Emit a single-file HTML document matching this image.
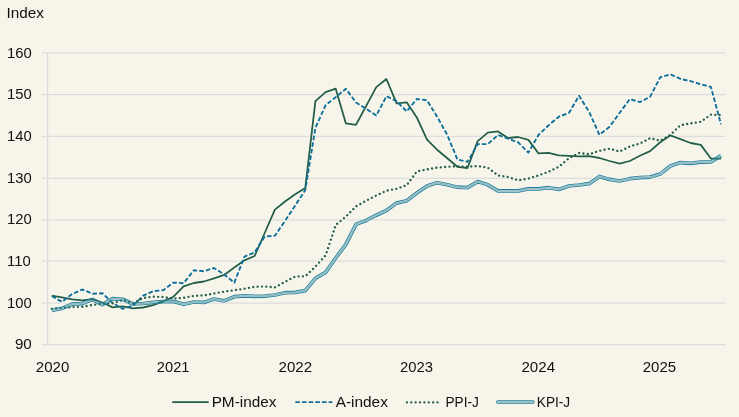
<!DOCTYPE html>
<html><head><meta charset="utf-8"><title>Index</title>
<style>
html,body{margin:0;padding:0;background:#f7f5ea;}
body{width:739px;height:417px;overflow:hidden;font-family:"Liberation Sans",sans-serif;}
svg{display:block}
text{font-family:"Liberation Sans",sans-serif;font-size:15.5px;fill:#111}
.g line{stroke:#dcdcde;stroke-width:1.25}
polyline{fill:none;stroke-linejoin:round}
</style></head><body>
<svg style="will-change:transform" width="739" height="417" viewBox="0 0 739 417">
<rect width="739" height="417" fill="#f7f5ea"/>
<g class="g"><line x1="42" x2="725.5" y1="52.94" y2="52.94"/><line x1="42" x2="725.5" y1="94.66" y2="94.66"/><line x1="42" x2="725.5" y1="136.35" y2="136.35"/><line x1="42" x2="725.5" y1="178.25" y2="178.25"/><line x1="42" x2="725.5" y1="219.80" y2="219.80"/><line x1="42" x2="725.5" y1="261.15" y2="261.15"/><line x1="42" x2="725.5" y1="303.00" y2="303.00"/><line x1="42" x2="725.5" y1="344.62" y2="344.62"/><line x1="47.6" x2="47.6" y1="52.4" y2="345.0"/></g>
<text transform="translate(6.39 17.80) scale(0.9884 1)">Index</text>
<text transform="translate(7.02 57.79) scale(0.9574 1)">160</text><text transform="translate(7.02 99.46) scale(0.9574 1)">150</text><text transform="translate(7.02 141.13) scale(0.9574 1)">140</text><text transform="translate(7.02 182.80) scale(0.9574 1)">130</text><text transform="translate(7.02 224.47) scale(0.9574 1)">120</text><text transform="translate(7.02 266.14) scale(0.9574 1)">110</text><text transform="translate(7.02 307.81) scale(0.9574 1)">100</text><text transform="translate(14.89 349.48) scale(0.9806 1)">90</text>
<text transform="translate(35.84 372.20) scale(0.9699 1)">2020</text><text transform="translate(156.86 372.20) scale(0.9470 1)">2021</text><text transform="translate(278.54 372.20) scale(0.9750 1)">2022</text><text transform="translate(400.05 372.20) scale(0.9570 1)">2023</text><text transform="translate(521.44 372.20) scale(0.9745 1)">2024</text><text transform="translate(642.74 372.20) scale(0.9712 1)">2025</text>

<g class="s">
<g opacity="0.8">
<polyline points="51.8,295.7 61.9,297.3 72.1,299.3 82.2,300.3 92.4,299.2 102.5,302.5 112.6,307.4 122.8,306.4 132.9,308.3 143.1,307.5 153.2,305.2 163.3,301.3 173.5,296.7 183.6,286.4 193.8,283.0 203.9,281.5 214.0,278.3 224.2,274.9 234.3,267.5 244.5,260.3 254.6,256.0 264.7,233.0 274.9,209.6 285.0,201.5 295.2,194.2 305.3,187.9 315.4,101.2 325.6,92.2 335.7,88.7 345.9,123.4 356.0,124.8 366.1,106.1 376.3,87.1 386.4,79.0 396.6,103.4 406.7,102.3 416.8,117.4 427.0,139.7 437.1,149.7 447.3,158.3 457.4,166.8 467.5,168.0 477.7,141.1 487.8,132.6 498.0,131.4 508.1,138.0 518.2,137.0 528.4,139.9 538.5,153.4 548.7,152.9 558.8,155.3 568.9,155.8 579.1,156.4 589.2,156.1 599.4,158.0 609.5,161.0 619.6,163.7 629.8,161.0 639.9,155.7 650.1,151.1 660.2,142.3 670.3,135.4 680.5,139.1 690.6,143.0 700.8,144.9 710.9,158.5 721.0,158.7" stroke="#fbf9f0" stroke-width="3.8"/>
<polyline points="51.8,296.0 61.9,301.9 72.1,294.1 82.2,289.5 92.4,293.8 102.5,293.3 112.6,303.0 122.8,308.8 132.9,305.7 143.1,295.7 153.2,291.2 163.3,290.2 173.5,282.6 183.6,283.2 193.8,270.3 203.9,271.2 214.0,268.0 224.2,274.4 234.3,282.6 244.5,256.6 254.6,252.4 264.7,236.6 274.9,235.7 285.0,221.0 295.2,205.5 305.3,190.1 315.4,127.8 325.6,105.2 335.7,97.2 345.9,88.8 356.0,102.5 366.1,108.8 376.3,115.5 386.4,96.3 396.6,101.2 406.7,111.5 416.8,99.0 427.0,100.3 437.1,116.7 447.3,135.0 457.4,159.5 467.5,161.9 477.7,144.1 487.8,144.1 498.0,135.0 508.1,138.7 518.2,142.4 528.4,152.6 538.5,135.0 548.7,125.2 558.8,116.7 568.9,113.0 579.1,95.8 589.2,112.0 599.4,134.8 609.5,126.8 619.6,113.0 629.8,99.1 639.9,102.1 650.1,96.8 660.2,77.3 670.3,74.3 680.5,78.9 690.6,81.2 700.8,84.2 710.9,86.9 721.0,124.3" stroke="#fbf9f0" stroke-width="3.9"/>
<polyline points="51.8,308.8 61.9,308.0 72.1,307.1 82.2,306.8 92.4,305.0 102.5,303.6 112.6,303.3 122.8,299.9 132.9,303.4 143.1,298.0 153.2,296.7 163.3,297.0 173.5,298.6 183.6,297.8 193.8,295.9 203.9,295.4 214.0,293.5 224.2,291.6 234.3,290.2 244.5,288.7 254.6,286.8 264.7,286.5 274.9,287.4 285.0,281.8 295.2,276.6 305.3,276.3 315.4,266.6 325.6,255.4 335.7,225.0 345.9,216.6 356.0,206.4 366.1,200.7 376.3,195.5 386.4,190.7 396.6,188.8 406.7,185.2 416.8,171.4 427.0,169.4 437.1,167.6 447.3,166.8 457.4,166.3 467.5,166.8 477.7,166.1 487.8,167.6 498.0,175.4 508.1,177.1 518.2,180.3 528.4,178.6 538.5,175.4 548.7,171.7 558.8,166.8 568.9,158.3 579.1,153.0 589.2,154.2 599.4,150.8 609.5,148.7 619.6,151.5 629.8,146.4 639.9,143.5 650.1,138.2 660.2,140.6 670.3,134.9 680.5,125.2 690.6,123.4 700.8,121.8 710.9,114.6 721.0,115.2" stroke="#fbf9f0" stroke-width="4.0" stroke-linecap="round" stroke-dasharray="0.01 4.36"/>
<polyline points="51.8,310.5 61.9,308.4 72.1,304.2 82.2,303.6 92.4,299.5 102.5,304.7 112.6,298.7 122.8,299.3 132.9,304.0 143.1,303.5 153.2,302.3 163.3,301.7 173.5,301.4 183.6,304.3 193.8,302.0 203.9,302.4 214.0,299.0 224.2,300.9 234.3,296.7 244.5,295.8 254.6,296.3 264.7,296.1 274.9,295.0 285.0,292.7 295.2,292.4 305.3,290.6 315.4,278.4 325.6,272.4 335.7,258.0 345.9,244.4 356.0,224.3 366.1,220.4 376.3,215.2 386.4,210.5 396.6,203.1 406.7,200.7 416.8,193.0 427.0,186.0 437.1,182.8 447.3,184.8 457.4,187.2 467.5,187.7 477.7,181.6 487.8,184.8 498.0,190.9 508.1,190.9 518.2,190.9 528.4,188.9 538.5,188.9 548.7,187.7 558.8,189.4 568.9,186.0 579.1,185.0 589.2,183.7 599.4,176.4 609.5,179.4 619.6,181.0 629.8,178.7 639.9,177.6 650.1,177.1 660.2,174.1 670.3,166.0 680.5,162.6 690.6,163.3 700.8,162.1 710.9,161.9 721.0,155.7" stroke="#fbf9f0" stroke-width="5.6"/>
</g>
<polyline points="51.8,295.7 61.9,297.3 72.1,299.3 82.2,300.3 92.4,299.2 102.5,302.5 112.6,307.4 122.8,306.4 132.9,308.3 143.1,307.5 153.2,305.2 163.3,301.3 173.5,296.7 183.6,286.4 193.8,283.0 203.9,281.5 214.0,278.3 224.2,274.9 234.3,267.5 244.5,260.3 254.6,256.0 264.7,233.0 274.9,209.6 285.0,201.5 295.2,194.2 305.3,187.9 315.4,101.2 325.6,92.2 335.7,88.7 345.9,123.4 356.0,124.8 366.1,106.1 376.3,87.1 386.4,79.0 396.6,103.4 406.7,102.3 416.8,117.4 427.0,139.7 437.1,149.7 447.3,158.3 457.4,166.8 467.5,168.0 477.7,141.1 487.8,132.6 498.0,131.4 508.1,138.0 518.2,137.0 528.4,139.9 538.5,153.4 548.7,152.9 558.8,155.3 568.9,155.8 579.1,156.4 589.2,156.1 599.4,158.0 609.5,161.0 619.6,163.7 629.8,161.0 639.9,155.7 650.1,151.1 660.2,142.3 670.3,135.4 680.5,139.1 690.6,143.0 700.8,144.9 710.9,158.5 721.0,158.7" stroke="#245f48" stroke-width="1.8"/>
<polyline points="51.8,296.0 61.9,301.9 72.1,294.1 82.2,289.5 92.4,293.8 102.5,293.3 112.6,303.0 122.8,308.8 132.9,305.7 143.1,295.7 153.2,291.2 163.3,290.2 173.5,282.6 183.6,283.2 193.8,270.3 203.9,271.2 214.0,268.0 224.2,274.4 234.3,282.6 244.5,256.6 254.6,252.4 264.7,236.6 274.9,235.7 285.0,221.0 295.2,205.5 305.3,190.1 315.4,127.8 325.6,105.2 335.7,97.2 345.9,88.8 356.0,102.5 366.1,108.8 376.3,115.5 386.4,96.3 396.6,101.2 406.7,111.5 416.8,99.0 427.0,100.3 437.1,116.7 447.3,135.0 457.4,159.5 467.5,161.9 477.7,144.1 487.8,144.1 498.0,135.0 508.1,138.7 518.2,142.4 528.4,152.6 538.5,135.0 548.7,125.2 558.8,116.7 568.9,113.0 579.1,95.8 589.2,112.0 599.4,134.8 609.5,126.8 619.6,113.0 629.8,99.1 639.9,102.1 650.1,96.8 660.2,77.3 670.3,74.3 680.5,78.9 690.6,81.2 700.8,84.2 710.9,86.9 721.0,124.3" stroke="#11709a" stroke-width="1.9" stroke-dasharray="4.6 2.07"/>
<polyline points="51.8,308.8 61.9,308.0 72.1,307.1 82.2,306.8 92.4,305.0 102.5,303.6 112.6,303.3 122.8,299.9 132.9,303.4 143.1,298.0 153.2,296.7 163.3,297.0 173.5,298.6 183.6,297.8 193.8,295.9 203.9,295.4 214.0,293.5 224.2,291.6 234.3,290.2 244.5,288.7 254.6,286.8 264.7,286.5 274.9,287.4 285.0,281.8 295.2,276.6 305.3,276.3 315.4,266.6 325.6,255.4 335.7,225.0 345.9,216.6 356.0,206.4 366.1,200.7 376.3,195.5 386.4,190.7 396.6,188.8 406.7,185.2 416.8,171.4 427.0,169.4 437.1,167.6 447.3,166.8 457.4,166.3 467.5,166.8 477.7,166.1 487.8,167.6 498.0,175.4 508.1,177.1 518.2,180.3 528.4,178.6 538.5,175.4 548.7,171.7 558.8,166.8 568.9,158.3 579.1,153.0 589.2,154.2 599.4,150.8 609.5,148.7 619.6,151.5 629.8,146.4 639.9,143.5 650.1,138.2 660.2,140.6 670.3,134.9 680.5,125.2 690.6,123.4 700.8,121.8 710.9,114.6 721.0,115.2" stroke="#245f48" stroke-width="2.35" stroke-linecap="round" stroke-dasharray="0.01 4.36"/>
</g>
<mask id="mk" maskUnits="userSpaceOnUse" x="0" y="0" width="739" height="417">
<g stroke-linecap="round" fill="none">
<polyline points="51.8,310.5 61.9,308.4 72.1,304.2 82.2,303.6 92.4,299.5 102.5,304.7 112.6,298.7 122.8,299.3 132.9,304.0 143.1,303.5 153.2,302.3 163.3,301.7 173.5,301.4 183.6,304.3 193.8,302.0 203.9,302.4 214.0,299.0 224.2,300.9 234.3,296.7 244.5,295.8 254.6,296.3 264.7,296.1 274.9,295.0 285.0,292.7 295.2,292.4 305.3,290.6 315.4,278.4 325.6,272.4 335.7,258.0 345.9,244.4 356.0,224.3 366.1,220.4 376.3,215.2 386.4,210.5 396.6,203.1 406.7,200.7 416.8,193.0 427.0,186.0 437.1,182.8 447.3,184.8 457.4,187.2 467.5,187.7 477.7,181.6 487.8,184.8 498.0,190.9 508.1,190.9 518.2,190.9 528.4,188.9 538.5,188.9 548.7,187.7 558.8,189.4 568.9,186.0 579.1,185.0 589.2,183.7 599.4,176.4 609.5,179.4 619.6,181.0 629.8,178.7 639.9,177.6 650.1,177.1 660.2,174.1 670.3,166.0 680.5,162.6 690.6,163.3 700.8,162.1 710.9,161.9 721.0,155.7" stroke="#fff" stroke-width="3.7" stroke-linecap="butt"/>
<polyline points="51.8,310.5 61.9,308.4 72.1,304.2 82.2,303.6 92.4,299.5 102.5,304.7 112.6,298.7 122.8,299.3 132.9,304.0 143.1,303.5 153.2,302.3 163.3,301.7 173.5,301.4 183.6,304.3 193.8,302.0 203.9,302.4 214.0,299.0 224.2,300.9 234.3,296.7 244.5,295.8 254.6,296.3 264.7,296.1 274.9,295.0 285.0,292.7 295.2,292.4 305.3,290.6 315.4,278.4 325.6,272.4 335.7,258.0 345.9,244.4 356.0,224.3 366.1,220.4 376.3,215.2 386.4,210.5 396.6,203.1 406.7,200.7 416.8,193.0 427.0,186.0 437.1,182.8 447.3,184.8 457.4,187.2 467.5,187.7 477.7,181.6 487.8,184.8 498.0,190.9 508.1,190.9 518.2,190.9 528.4,188.9 538.5,188.9 548.7,187.7 558.8,189.4 568.9,186.0 579.1,185.0 589.2,183.7 599.4,176.4 609.5,179.4 619.6,181.0 629.8,178.7 639.9,177.6 650.1,177.1 660.2,174.1 670.3,166.0 680.5,162.6 690.6,163.3 700.8,162.1 710.9,161.9 721.0,155.7" stroke="#575757" stroke-width="2.0" stroke-linecap="butt"/>
<polyline points="51.8,310.5 61.9,308.4 72.1,304.2 82.2,303.6 92.4,299.5 102.5,304.7 112.6,298.7 122.8,299.3 132.9,304.0 143.1,303.5 153.2,302.3 163.3,301.7 173.5,301.4 183.6,304.3 193.8,302.0 203.9,302.4 214.0,299.0 224.2,300.9 234.3,296.7 244.5,295.8 254.6,296.3 264.7,296.1 274.9,295.0 285.0,292.7 295.2,292.4 305.3,290.6 315.4,278.4 325.6,272.4 335.7,258.0 345.9,244.4 356.0,224.3 366.1,220.4 376.3,215.2 386.4,210.5 396.6,203.1 406.7,200.7 416.8,193.0 427.0,186.0 437.1,182.8 447.3,184.8 457.4,187.2 467.5,187.7 477.7,181.6 487.8,184.8 498.0,190.9 508.1,190.9 518.2,190.9 528.4,188.9 538.5,188.9 548.7,187.7 558.8,189.4 568.9,186.0 579.1,185.0 589.2,183.7 599.4,176.4 609.5,179.4 619.6,181.0 629.8,178.7 639.9,177.6 650.1,177.1 660.2,174.1 670.3,166.0 680.5,162.6 690.6,163.3 700.8,162.1 710.9,161.9 721.0,155.7" stroke="#9a9a9a" stroke-width="0.75" stroke-linecap="butt"/>
<path d="M497.9 402.0H532.8" stroke="#fff" stroke-width="3.7"/>
<path d="M497.9 402.0H532.8" stroke="#575757" stroke-width="2.0"/>
<path d="M497.9 402.0H532.8" stroke="#9a9a9a" stroke-width="0.75"/>
</g></mask>
<rect x="0" y="0" width="739" height="417" fill="#237f9b" mask="url(#mk)"/>
<!-- legend -->
<line x1="172.2" x2="208.7" y1="402.1" y2="402.1" stroke="#245f48" stroke-width="1.8"/>
<text transform="translate(211.64 406.90) scale(0.9902 1)">PM-index</text>
<line x1="295.3" x2="332.3" y1="402.1" y2="402.1" stroke="#11709a" stroke-width="1.9" stroke-dasharray="4.6 2.07"/>
<text transform="translate(335.67 406.90) scale(0.9932 1)">A-index</text>
<line x1="406.9" x2="438" y1="402.3" y2="402.3" stroke="#245f48" stroke-width="2.35" stroke-linecap="round" stroke-dasharray="0.01 4.36"/>
<text transform="translate(445.48 406.90) scale(0.8824 1)">PPI-J</text>
<text transform="translate(536.78 406.90) scale(0.8824 1)">KPI-J</text>
</svg>
</body></html>
